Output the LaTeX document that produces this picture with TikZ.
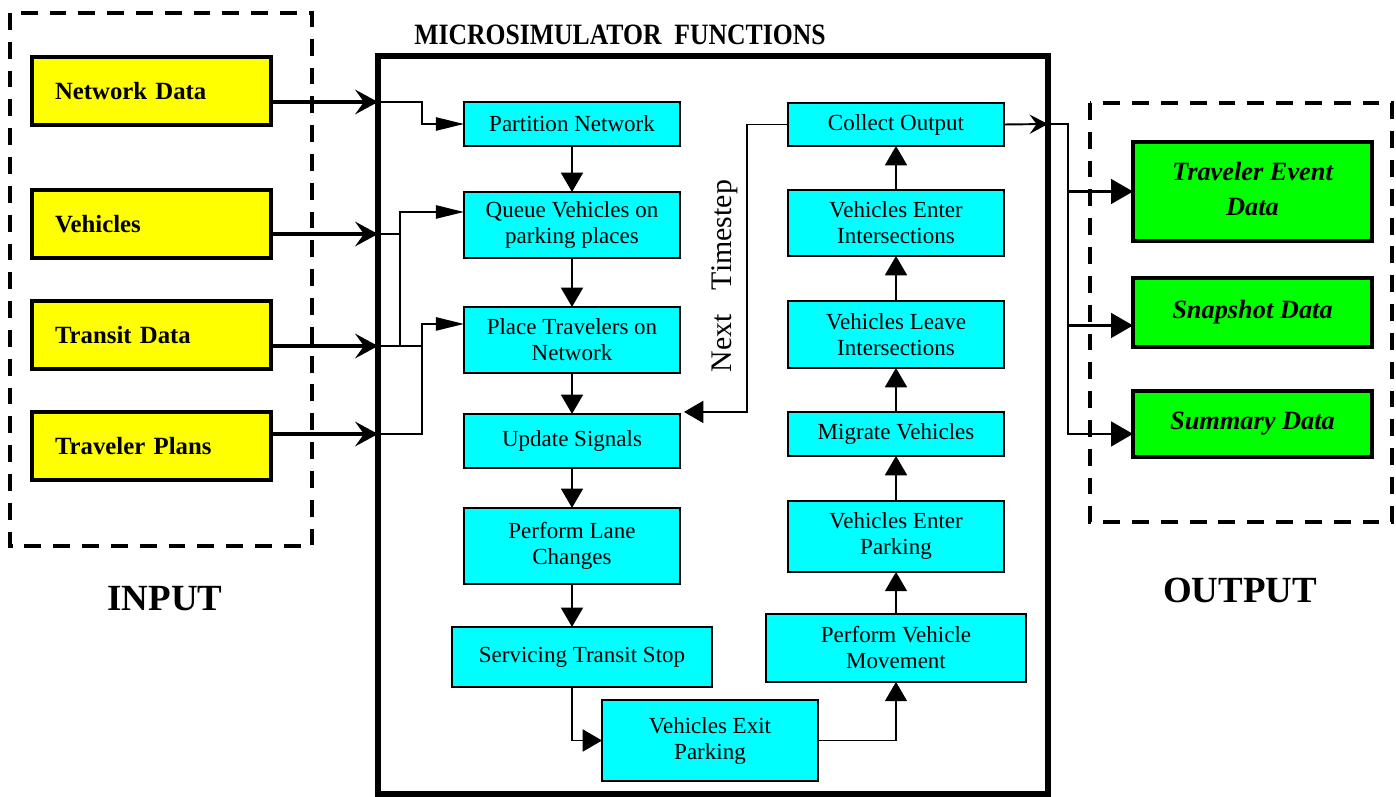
\documentclass[tikz,border=0pt]{standalone}
\usepackage{fontspec}
\setmainfont{Liberation Serif}
\usetikzlibrary{arrows.meta, positioning}

\definecolor{inyellow}{RGB}{255,255,0}
\definecolor{fncyan}{RGB}{0,255,255}
\definecolor{outgreen}{RGB}{0,255,0}

\tikzset{
  inbox/.style={draw, line width=1.8pt, outer sep=0pt, fill=inyellow, minimum width=4.78cm,
    minimum height=1.36cm, inner xsep=0.46cm, text width=3.86cm, align=left,
    font=\fontsize{14.1}{17}\selectfont\bfseries},
  fnbox/.style={draw, line width=1pt, outer sep=0pt, fill=fncyan, minimum width=4.32cm,
    align=center, font=\fontsize{13.1}{14.8}\selectfont},
  outbox/.style={draw, line width=1.8pt, outer sep=0pt, fill=outgreen, minimum width=4.78cm,
    align=center, font=\fontsize{15}{19.5}\selectfont\bfseries\itshape},
  groupbox/.style={draw, line width=1.9pt, dash pattern=on 9.6pt off 6.8pt},
  conn/.style={line width=1.1pt, -{Triangle[length=11pt,width=12.5pt]}},
  sidein/.style={line width=1.1pt, -{Triangle[length=16pt,width=7.5pt]}},
  feed/.style={line width=2.2pt, -{Stealth[length=13pt,width=14pt,inset=5pt]}},
  fanout/.style={line width=1.6pt, -{Triangle[length=12.5pt,width=14pt]}},
  biglabel/.style={font=\fontsize{21}{25}\selectfont\bfseries}
}

\begin{document}
\begin{tikzpicture}[x=0.02cm, y=-0.02cm]
    \useasboundingbox (0,0) rectangle (1396,797);

    % input side
    \draw[groupbox] (10,13) rectangle (312,546);
    \node[inbox] (nd) at (151.5,91) {Network Data};
    \node[inbox, below=1.3cm of nd] (veh) {Vehicles};
    \node[inbox, below=0.86cm of veh] (tra) {Transit Data};
    \node[inbox, below=0.86cm of tra] (trv) {Traveler Plans};
    \node[biglabel] (inlbl) at (165,599) {INPUT};

    % microsimulator frame
    \draw[line width=3.2pt] (378,56) rectangle (1048,794);
    \node[font=\fontsize{16.8}{20}\selectfont\bfseries] (title) at (620,35)
      {\scalebox{0.87}[1]{MICROSIMULATOR\hspace{0.5em}FUNCTIONS}};

    % left column
    \node[fnbox, minimum height=0.88cm] (part) at (572,124) {Partition Network};
    \node[fnbox, minimum height=1.32cm, below=0.92cm of part] (queue) {Queue Vehicles on\\parking places};
    \node[fnbox, minimum height=1.32cm, below=0.98cm of queue] (place) {Place Travelers on\\Network};
    \node[fnbox, minimum height=1.08cm, below=0.82cm of place] (upd) {Update Signals};
    \node[fnbox, minimum height=1.52cm, below=0.8cm of upd] (lane) {Perform Lane\\Changes};
    \node[fnbox, minimum height=1.2cm, minimum width=5.2cm, below=0.86cm of lane, xshift=0.2cm] (serv) {Servicing Transit Stop};
    \node[fnbox, minimum height=1.62cm] (exit) at (710,740.5) {Vehicles Exit\\Parking};

    % right column
    \node[fnbox, minimum height=0.86cm] (coll) at (896,124.5) {Collect Output};
    \node[fnbox, minimum height=1.32cm, below=0.88cm of coll] (vei) {Vehicles Enter\\Intersections};
    \node[fnbox, minimum height=1.34cm, below=0.9cm of vei] (vli) {Vehicles Leave\\Intersections};
    \node[fnbox, minimum height=0.88cm, below=0.88cm of vli] (mig) {Migrate Vehicles};
    \node[fnbox, minimum height=1.42cm, below=0.9cm of mig] (vep) {Vehicles Enter\\Parking};
    \node[fnbox, minimum height=1.36cm, minimum width=5.2cm, below=0.84cm of vep] (pvm) {Perform Vehicle\\Movement};

    \node[rotate=90, font=\fontsize{17}{20}\selectfont] (ntslbl) at (725,276) {Next\hspace{0.8em}Timestep};

    % output side
    \draw[groupbox] (1090,103) rectangle (1392,522);
    \node[outbox, minimum height=1.98cm] (ted) at (1252.5,191.5) {\raisebox{3pt}{Traveler Event}\\\raisebox{3pt}{Data}};
    \node[outbox, minimum height=1.38cm, below=0.74cm of ted] (snap) {\raisebox{2pt}{Snapshot Data}};
    \node[outbox, minimum height=1.32cm, below=0.88cm of snap] (sum) {\raisebox{2pt}{Summary Data}};
    \node[biglabel] (outlbl) at (1240,590) {OUTPUT};

    % points on the frame
    \coordinate (inA) at (378,102);
    \coordinate (inB) at (378,234);
    \coordinate (inC) at (378,346);
    \coordinate (inD) at (378,434);
    \coordinate (jogA) at (400,0);
    \coordinate (jogB) at (422,0);
    \coordinate (qin) at ([yshift=0.26cm]queue.west);
    \coordinate (pin) at ([yshift=0.32cm]place.west);
    \coordinate (outc) at (1048,124);
    \coordinate (split) at (1068,124);
    \coordinate (ntip) at ([xshift=0.08cm,yshift=0.04cm]upd.north east);

    % feeds into the frame
    \draw[feed] (nd.east |- inA) -- (inA);
    \draw[feed] (veh.east |- inB) -- (inB);
    \draw[feed] (tra.east |- inC) -- (inC);
    \draw[feed] (trv.east |- inD) -- (inD);

    \draw[sidein] (inA) -| (jogB |- part.west) -- (part.west);
    \draw[sidein] (inB) -| (jogA |- qin) -- (qin);
    \draw[line width=1.1pt] (inC) -- (jogB |- inC) (jogA |- inC) -- (jogA |- inB);
    \draw[sidein] (inD) -| (jogB |- pin) -- (pin);

    % main chain
    \draw[conn] (part) -- (queue);
    \draw[conn] (queue) -- (place);
    \draw[conn] (place) -- (upd);
    \draw[conn] (upd) -- (lane);
    \draw[conn] (lane.south) -- (lane.south |- serv.north);
    \draw[conn] (lane.south |- serv.south) |- (exit.west);
    \draw[conn] (exit.east) -| (pvm.south);
    \draw[conn] (pvm) -- (vep);
    \draw[conn] (vep) -- (mig);
    \draw[conn] (mig) -- (vli);
    \draw[conn] (vli) -- (vei);
    \draw[conn] (vei) -- (coll);
    \draw[conn] (coll.west) -- ++(-0.82cm,0cm) |- (ntip);

    % out of the frame
    \draw[line width=1.1pt, -{Stealth[length=10.5pt,width=11pt,inset=4pt]}] (coll.east) -- (outc);
    \draw[fanout] (outc) -| (split |- ted.west) -- (ted.west);
    \draw[fanout] (split |- ted.west) |- ([yshift=-0.26cm]snap.west);
    \draw[fanout] (split |- ted.west) |- ([yshift=-0.2cm]sum.west);
\end{tikzpicture}
\end{document}
